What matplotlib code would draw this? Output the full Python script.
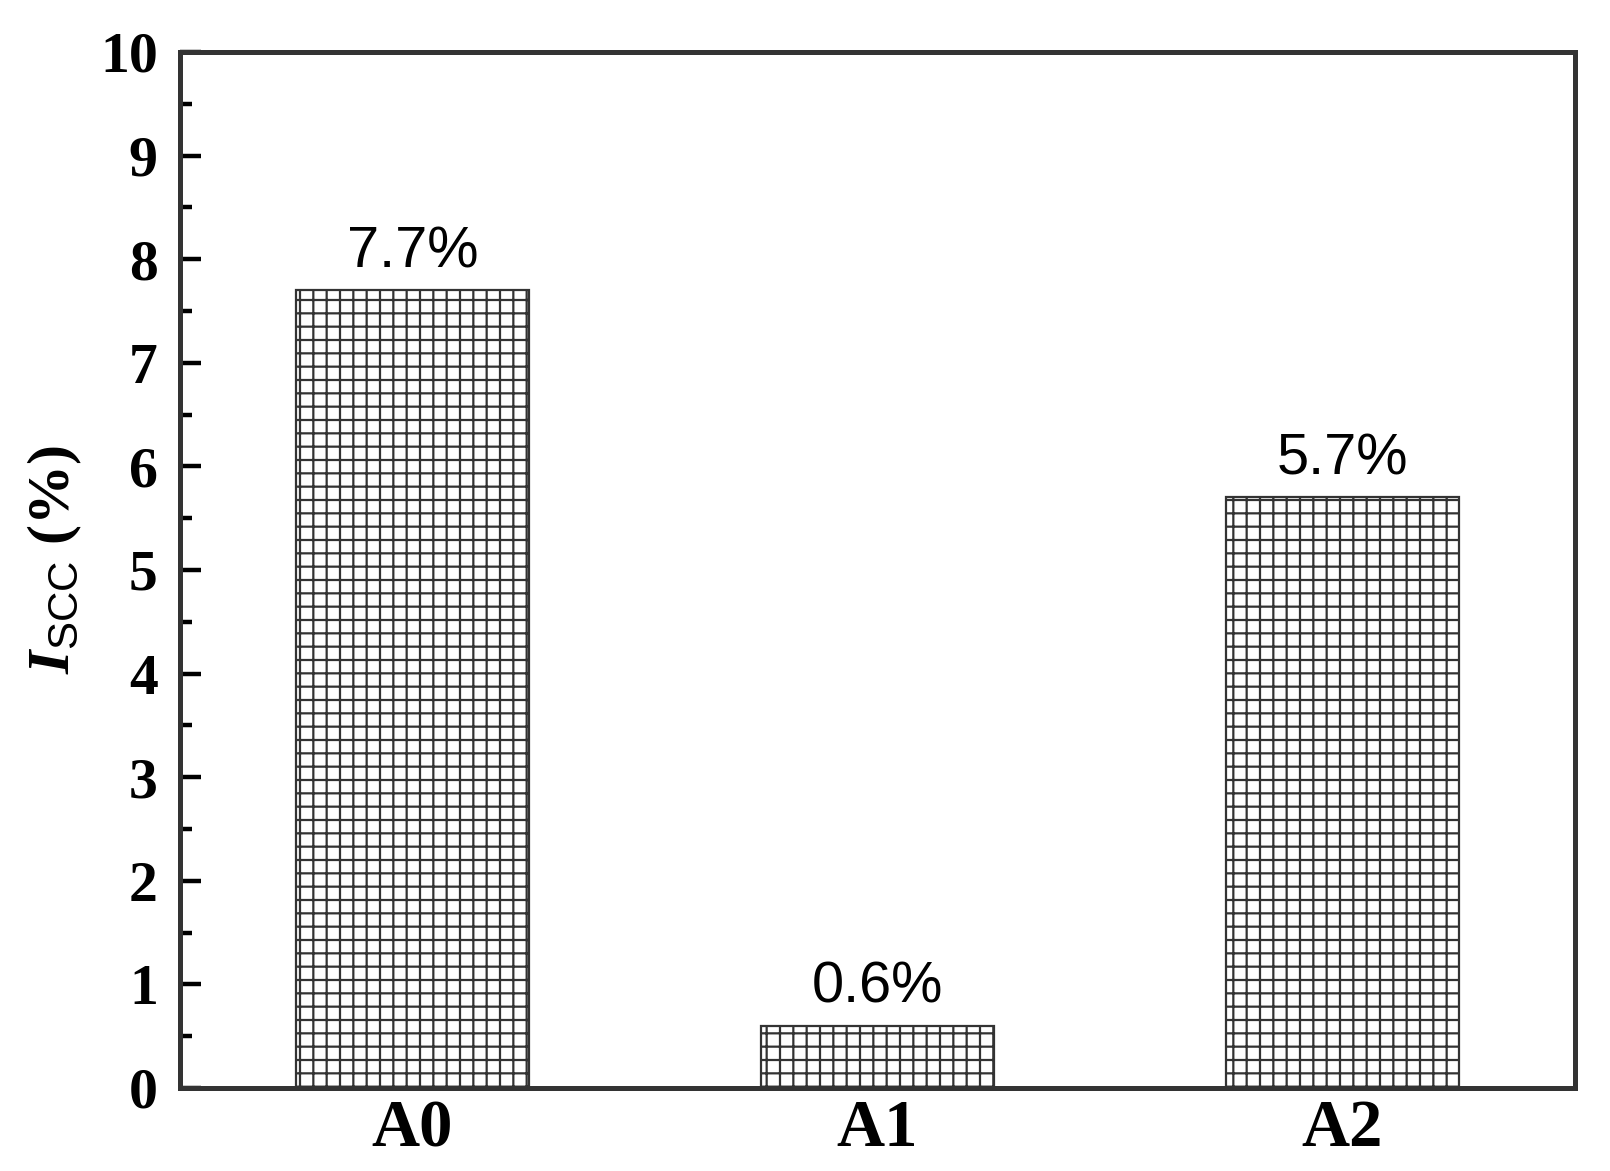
import numpy as np
import matplotlib.pyplot as plt
from matplotlib.ticker import MultipleLocator

categories = ['A0', 'A1', 'A2']
values = [7.7, 0.6, 5.7]
labels = ['7.7%', '0.6%', '5.7%']

plt.rcParams['mathtext.fontset'] = 'custom'
plt.rcParams['mathtext.rm'] = 'Liberation Serif:bold'
plt.rcParams['mathtext.bfit'] = 'Liberation Serif:italic:bold'
plt.rcParams['mathtext.sf'] = 'Liberation Sans'
plt.rcParams['hatch.linewidth'] = 2.0
plt.rcParams['hatch.color'] = '#333333'

fig = plt.figure(figsize=(20.125, 14.6375), dpi=80)
ax = fig.add_axes([0.1118, 0.0709, 0.8665, 0.8847])

x = np.arange(len(categories))
bars = ax.bar(x, values, width=0.5, color='white', edgecolor='#333333',
              linewidth=2.0, hatch='+')

# value labels above the bars
for xi, v, lab in zip(x, values, labels):
    ax.annotate(lab, (xi, v), xytext=(0, 10), textcoords='offset points',
                ha='center', va='bottom', fontsize=52, family='Liberation Sans')

ax.set_xlim(-0.5, 2.5)
ax.set_ylim(0, 10)
ax.set_xticks(x)
ax.set_xticklabels(categories, fontsize=60, fontweight='bold', family='Liberation Serif')
ax.yaxis.set_major_locator(MultipleLocator(1))
ax.yaxis.set_minor_locator(MultipleLocator(0.5))
ax.tick_params(axis='y', which='major', direction='in', length=19, width=4, pad=20)
ax.tick_params(axis='y', which='minor', direction='in', length=11, width=4)
ax.tick_params(axis='x', length=0, pad=10)
for t in ax.get_yticklabels():
    t.set_fontsize(52)
    t.set_fontweight('bold')
    t.set_family('Liberation Serif')

for s in ax.spines.values():
    s.set_linewidth(4.5)
    s.set_color('#333333')

ax.set_ylabel(r'$\mathbfit{I}_{\mathsf{SCC}}$ (%)', fontsize=54, fontweight='bold',
              family='Liberation Serif', labelpad=14, y=0.51)

fig.savefig('out.png', dpi=80)
